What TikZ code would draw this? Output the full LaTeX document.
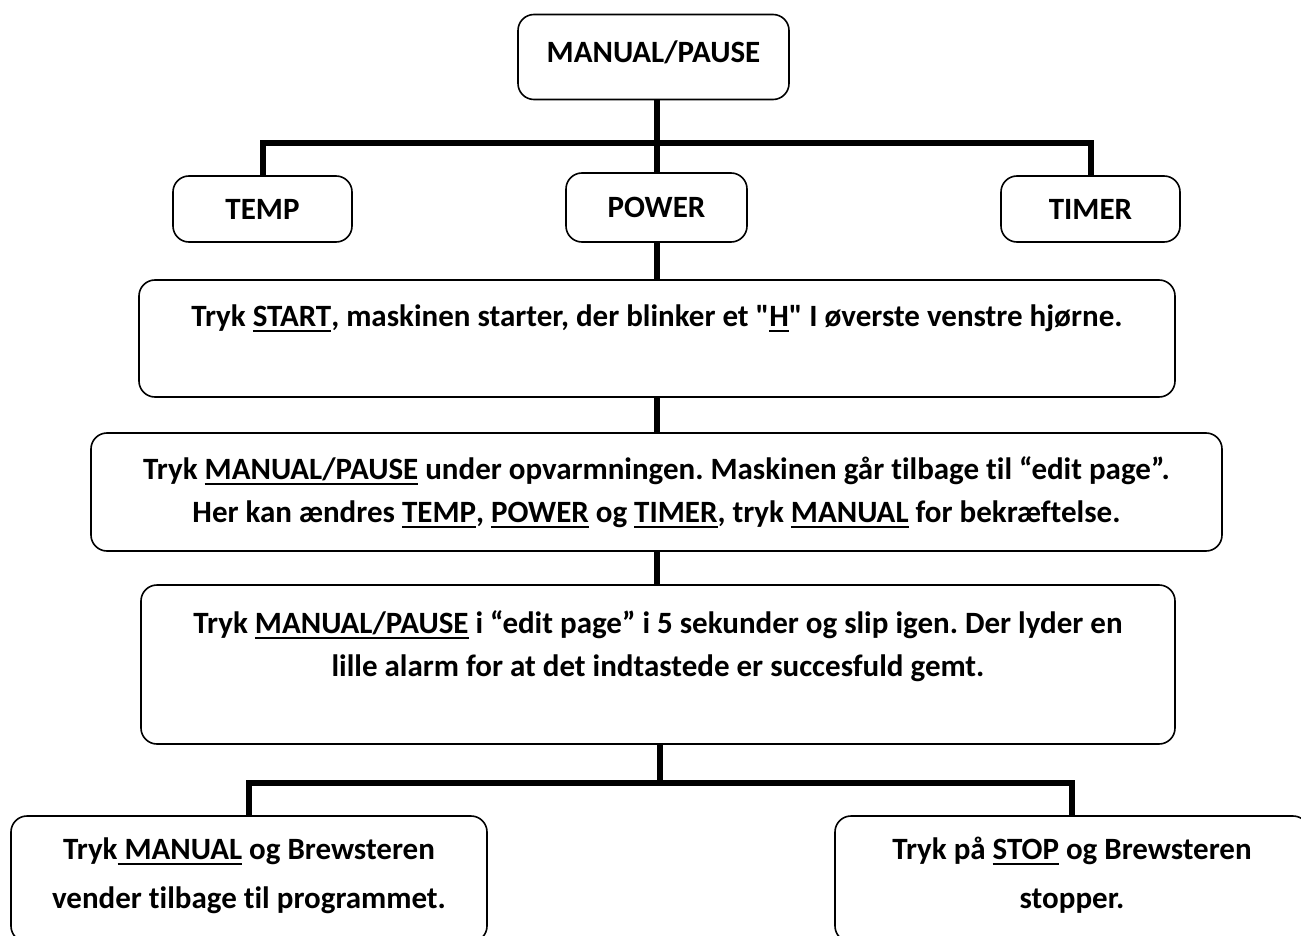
\documentclass[tikz,border=0pt]{standalone}
\usepackage{fontspec}
\setmainfont{Carlito}[Ligatures={TeXOff,NoCommon}]
\usetikzlibrary{positioning}
\frenchspacing
\newcommand\uln[1]{\setbox0\hbox{#1}\rlap{\rule[-6pt]{\wd0}{2.6pt}}\box0\relax}
\tikzset{
  box/.style={draw, line width=1.6pt, rounded corners=16pt, inner sep=0pt,
    text height=20pt, text depth=-4pt, font=\fontsize{31}{43}\selectfont\bfseries},
  txt/.style={inner sep=0pt, align=center, anchor=north,
    font=\fontsize{31}{43}\selectfont\bfseries},
  conn/.style={line width=6pt, line join=miter}
}
\begin{document}
\begin{tikzpicture}[x=1pt, y=-1pt]
    \clip (0,0) rectangle (1301,936);
    \def\tbar{143}; \def\bbar{783}; \def\st{\rule{0pt}{28pt}};

    \node[box, minimum width=271, minimum height=85, text depth=8pt] (A) at (653.5,57) {MANUAL/PAUSE};
    \node[box, minimum width=179, minimum height=66] (B) at (262.5,209) {TEMP};
    \node[box, minimum width=181, minimum height=69, text depth=-1pt] (C) at (656.5,207.5) {POWER};
    \node[box, minimum width=179, minimum height=66] (D) at (1090.5,209) {TIMER};
    \node[box, minimum width=1036, minimum height=117] (E) at (657,338.5) {};
    \node[box, minimum width=1131, minimum height=118] (F) at (656.5,492) {};
    \node[box, minimum width=1034, minimum height=159] (G) at (658,664.5) {};
    \node[box, minimum width=476, minimum height=126] (H) at (249,879) {};
    \node[box, minimum width=474, minimum height=126] (I) at (1072,879) {};

    \node[txt] (e) at ([yshift=-19pt]E.north) {\st Tryk \uln{START}, maskinen starter, der blinker et "\uln{H}" I øverste venstre hjørne.};
    \node[txt] (f) at ([yshift=-19pt]F.north) {\st Tryk \uln{MANUAL/PAUSE} under opvarmningen. Maskinen går tilbage til “edit page”.\\
      Her kan ændres \uln{TEMP}, \uln{POWER} og \uln{TIMER}, tryk \uln{MANUAL} for bekræftelse.};
    \node[txt] (g) at ([yshift=-21pt]G.north) {\st Tryk \uln{MANUAL/PAUSE} i “edit page” i 5 sekunder og slip igen. Der lyder en\\
      lille alarm for at det indtastede er succesfuld gemt.};
    \node[txt, font=\fontsize{31}{49}\selectfont\bfseries] (h) at ([yshift=-16pt]H.north) {\st Tryk\uln{ MANUAL} og Brewsteren\\ vender tilbage til programmet.};
    \node[txt, font=\fontsize{31}{49}\selectfont\bfseries] (i) at ([yshift=-16pt]I.north) {\st Tryk på \uln{STOP} og Brewsteren\\ stopper.};

    \coordinate (T) at (C.north |- 0,\tbar); \coordinate (S) at (659.5,\bbar);

    \draw[conn] (C.north |- A.south) -- (C.north);
    \draw[conn] (B.north) |- (T) -| (D.north);
    \draw[conn] (C.south) -- (C.south |- E.north); \draw[conn] (E.south -| C.south) -- (F.north -| C.south);
    \draw[conn] (F.south -| C.south) -- (G.north -| C.south);
    \draw[conn] (G.south -| S) -- (S); \draw[conn] (H.north) |- (S) -| (I.north);
\end{tikzpicture}
\end{document}
